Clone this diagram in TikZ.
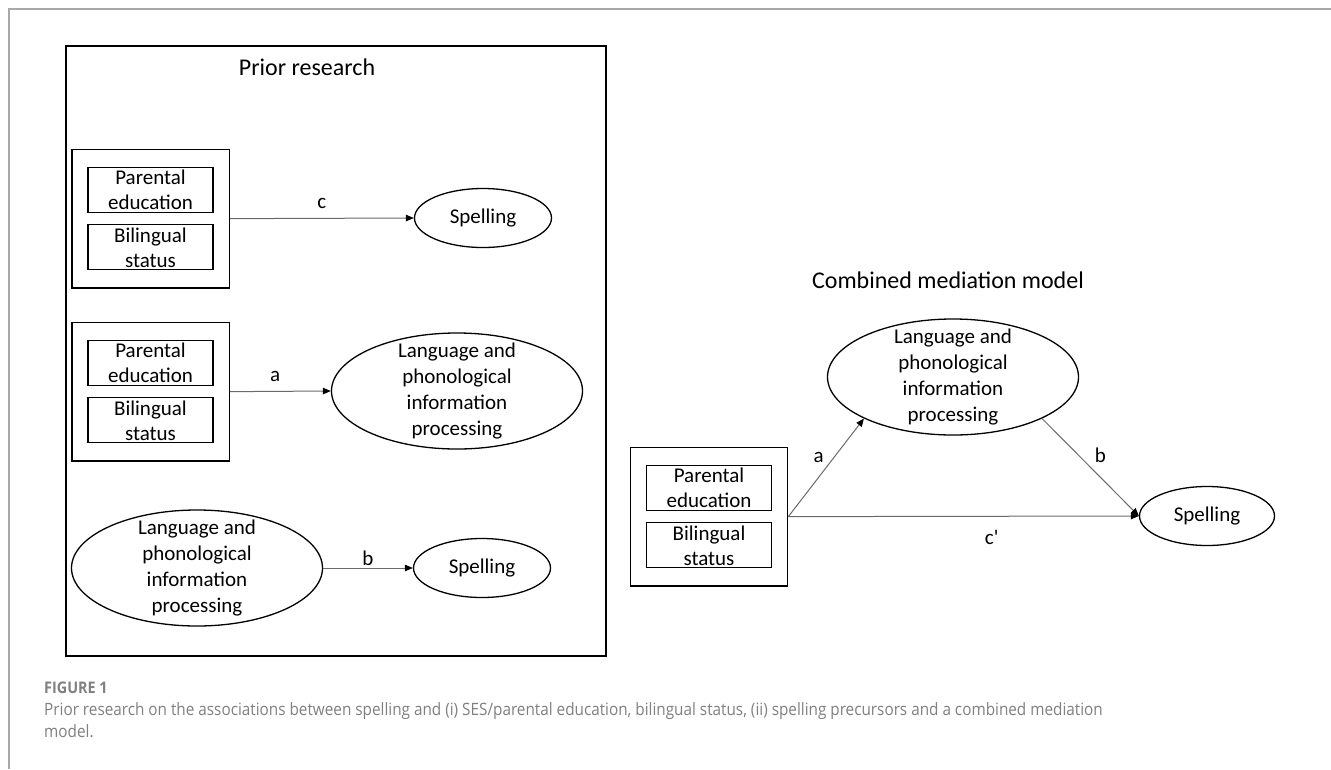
\documentclass[tikz,border=0pt]{standalone}
\usepackage{fontspec}
\setmainfont{Carlito}
\newfontfamily\capfont[FakeStretch=0.9]{Open Sans}
\usetikzlibrary{arrows.meta,positioning,shapes.geometric,fit}
\definecolor{framegray}{HTML}{A8A8A8}
\definecolor{capgray}{HTML}{808080}
\definecolor{arrgray}{HTML}{6A6A6A}
\newcommand{\lpip}{Language and\\phonological\\information\\processing}

\begin{document}
\begin{tikzpicture}[x=1pt,y=-1pt,>={Triangle[length=8pt,width=6.5pt,color=black]},
  var/.style={draw=black,line width=1.3pt,minimum width=125pt,minimum height=45pt,inner sep=0pt,align=center,font=\fontsize{21}{25}\selectfont},
  grp/.style={draw=black,line width=1.3pt,inner xsep=15.5pt,inner ysep=17.5pt},
  ell/.style={draw=black,line width=1.3pt,ellipse,inner sep=0pt,align=center,font=\fontsize{21}{25.7}\selectfont},
  lpipbox/.style={ell,minimum width=251pt,minimum height=116pt,label={[align=center,font=\fontsize{21}{25.7}\selectfont]center:\lpip}},
  spellbox/.style={ell,minimum width=137pt,minimum height=59pt},
  link/.style={->,draw=arrgray,line width=1pt},
  lab/.style={inner sep=0pt,font=\fontsize{21}{25}\selectfont},
  ttl/.style={font=\fontsize{24}{28}\selectfont}]
\useasboundingbox[fill=white] (0,0) rectangle (1331,769);
\draw[framegray,line width=1.5pt] (1331,9) -- (9,9) -- (9,769);

% prior research
\node[draw=black,line width=1.3pt,minimum width=540pt,minimum height=610pt,inner sep=0pt] (prior) at (336,351) {};
\node[ttl] (priorttl) at (307,67) {Prior research};

\node[var] (par1) at (150.5,190) {Parental\\education};
\node[var,below=11pt of par1] (bil1) {Bilingual\\status};
\node[grp,fit=(par1)(bil1)] (grp1) {};
\node[spellbox] (sp1) at (483,218) {Spelling};
\draw[link] (grp1.east) -- node[lab,above=9pt]{c} (sp1.west);

\node[var] (par2) at (150.5,363) {Parental\\education};
\node[var,below=11pt of par2] (bil2) {Bilingual\\status};
\node[grp,fit=(par2)(bil2)] (grp2) {};
\node[lpipbox] (lp1) at (457,391) {};
\draw[link] (grp2.east) -- node[lab,above=9pt,pos=0.45]{a} (lp1.west);

\node[lpipbox] (lp2) at (197,568) {};
\node[spellbox] (sp2) at (482,568) {Spelling};
\draw[link] (lp2.east) -- node[lab,above=2pt]{b} (sp2.west);

% combined mediation model
\node[ttl] (medttl) at (948,280) {Combined mediation model};
\node[var] (par3) at (709,488) {Parental\\education};
\node[var,below=11pt of par3] (bil3) {Bilingual\\status};
\node[grp,fit=(par3)(bil3)] (grp3) {};
\node[lpipbox] (lp3) at (953,377) {};
\node[spellbox,minimum width=135pt] (sp3) at (1207,516) {Spelling};
\draw[link] (grp3.east) -- node[lab,above left=4pt and 2pt]{a} (lp3.205);
\draw[link] (lp3.335) -- node[lab,above right=4pt and 4pt]{b} (sp3.west);
\draw[link] (grp3.east) -- node[lab,below=14pt,pos=0.58]{c\textquotesingle} (sp3.west);

% caption
\node[anchor=west,inner sep=0pt,text=capgray,font=\capfont\bfseries\fontsize{16}{18}\selectfont] (figno) at (44,688) {FIGURE 1};
\node[anchor=north west,inner sep=0pt,align=left,text=capgray,font=\capfont\fontsize{17}{22}\selectfont] (caption) at (44,702) {Prior research on the associations between spelling and (i) SES/parental education, bilingual status, (ii) spelling precursors and a combined mediation\\model.};
\end{tikzpicture}
\end{document}
